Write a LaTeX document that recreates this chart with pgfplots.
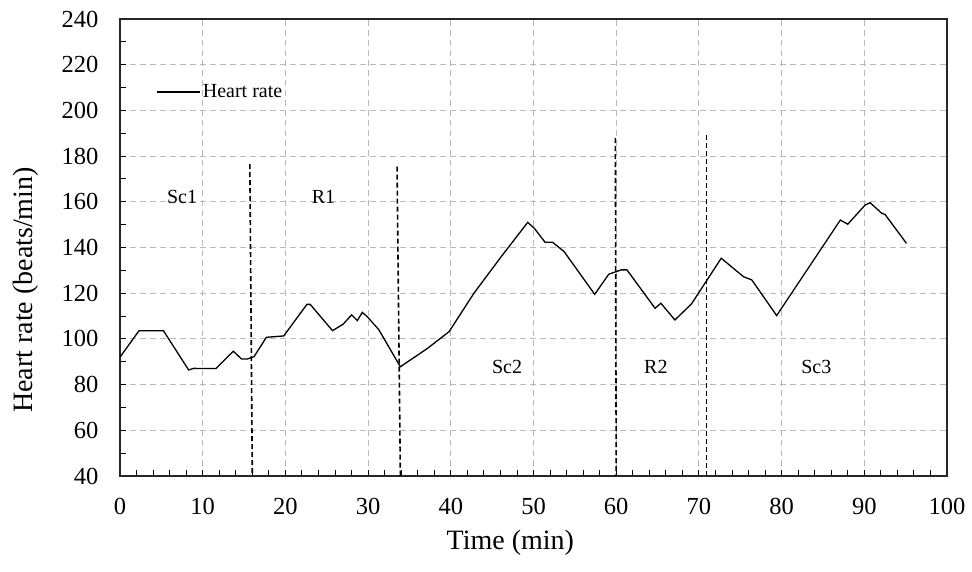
\documentclass[border=0pt]{standalone}
\usepackage{fontspec}
\setmainfont{Liberation Serif}
\usepackage{pgfplots}
\pgfplotsset{compat=1.18}
\begin{document}
\begin{tikzpicture}
\begin{axis}[
  at={(0,0)}, anchor=south west,
  scale only axis, width=827pt, height=457pt,
  xmin=0, xmax=100, ymin=40, ymax=240,
  xtick={0,10,...,100}, ytick={40,60,...,240},
  minor x tick num=4, minor y tick num=1,
  tick align=inside, xtick pos=left, ytick pos=left,
  major tick length=6pt, minor tick length=6pt,
  every tick/.style={black, line width=0.9pt},
  /pgf/number format/assume math mode=true,
  ticklabel style={font=\fontsize{24.5}{28}\selectfont},
  yticklabel style={xshift=-18pt},
  xticklabel style={yshift=-19pt},
  grid=major,
  major grid style={gray!55, line width=0.9pt, dash pattern=on 6pt off 4pt},
  axis line style={black!85, line width=1.6pt},
  xlabel={Time (min)}, ylabel={Heart rate (beats/min)},
  label style={font=\fontsize{28}{32}\selectfont},
  xlabel style={at={(axis description cs:0.472,0)}, anchor=north, yshift=-51pt},
  ylabel style={at={(axis description cs:-0.1137,0.407)}, anchor=center, rotate=0},
  legend style={draw=none, fill=none, at={(axis cs:4.4,208)}, anchor=west,
    font=\fontsize{20}{22}\selectfont, inner sep=0pt},
  legend cell align=left,
  legend image code/.code={\draw[#1] (0pt,0pt) -- (43pt,0pt);},
]
\addplot[black, line width=1.3pt] coordinates {
(0,92) (2.3,103.6) (5.25,103.6) (8.3,86.4) (8.9,87.1) (11.6,87) (13.7,94.6)
(14.7,91.2) (15.4,91.2) (16.2,92.2) (17.7,100.7) (19.8,101.3) (22.6,115.1)
(23.0,115.1) (25.7,103.6) (27,106.5) (28,110.5) (28.7,108) (29.3,111.6)
(29.9,109.7) (31.3,104) (33.9,87.8) (37.2,95.9) (39.8,103.2) (42.8,120)
(46.1,136) (49.3,151) (50.1,148.4) (51.4,142.3) (52.3,142.3) (53.7,138.2)
(57.4,119.5) (59.1,128.3) (60.6,130.2) (61.3,130.2) (64.7,113.4) (65.4,115.6)
(67.1,108.3) (69.1,115.3) (72.7,135.3) (75.4,127.2) (76.4,125.8) (79.4,110.2)
(87.1,152) (88,150.2) (90.1,158.6) (90.7,159.6) (92.1,155) (92.5,154.5)
(95.1,141.8)
};
\addlegendentry{Heart rate}
\addplot[black, line width=1.6pt, dash pattern=on 5pt off 3pt, forget plot] coordinates {(15.7,176.5) (16,40)};
\addplot[black, line width=1.6pt, dash pattern=on 5pt off 3pt, forget plot] coordinates {(33.5,175.4) (33.9,40)};
\addplot[black, line width=1.6pt, dash pattern=on 5pt off 3pt, forget plot] coordinates {(59.9,187.9) (60,40)};
\addplot[black, line width=1.6pt, dash pattern=on 5pt off 3pt, forget plot] coordinates {(70.9,189.2) (70.9,40)};
\node[font=\fontsize{20}{22}\selectfont] at (axis cs:7.5,162) {Sc1};
\node[font=\fontsize{20}{22}\selectfont] at (axis cs:24.6,162) {R1};
\node[font=\fontsize{20}{22}\selectfont] at (axis cs:46.8,87.7) {Sc2};
\node[font=\fontsize{20}{22}\selectfont] at (axis cs:64.8,87.7) {R2};
\node[font=\fontsize{20}{22}\selectfont] at (axis cs:84.2,87.7) {Sc3};
\end{axis}
\pgfresetboundingbox
\path[use as bounding box] (-120pt,-96pt) rectangle (852pt,476pt);
\end{tikzpicture}
\end{document}
